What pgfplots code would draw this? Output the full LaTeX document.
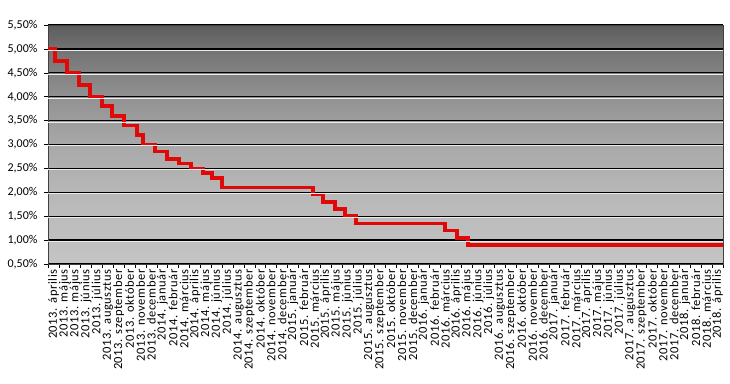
\documentclass[border=0pt]{standalone}
\usepackage{pgfplots}
\pgfplotsset{compat=1.18}
\usepackage{fontspec}
\setmainfont{Carlito}
\newfontfamily\labfont[LetterSpace=5]{Carlito}
\definecolor{myred}{RGB}{225,8,8}
\pgfdeclareverticalshading{bgshade}{100bp}{rgb(0bp)=(0.77,0.77,0.77); rgb(25bp)=(0.77,0.77,0.77); rgb(40bp)=(0.72,0.72,0.72); rgb(50bp)=(0.66,0.66,0.66); rgb(60bp)=(0.57,0.57,0.57); rgb(70bp)=(0.45,0.45,0.45); rgb(75bp)=(0.36,0.36,0.36); rgb(100bp)=(0.36,0.36,0.36)}
\begin{document}
\begin{tikzpicture}
\path[use as bounding box] (-48pt,-119pt) rectangle (682pt,264pt);
\begin{axis}[
  at={(0,0)}, anchor=south west,
  scale only axis,
  width=675pt, height=239pt,
  xmin=0, xmax=62, ymin=0.5, ymax=5.5,
  axis background/.style={shade, shading=bgshade},
  axis line style={black!75, line width=0.8pt},
  ytick={0.5,1,...,5.5},
  ymajorgrids,
  major grid style={black, line width=1.3pt},
  tick align=outside,
  major tick length=4pt,
  minor tick length=4pt,
  tick style={black, line width=0.6pt},
  xtick={0.5,1.5,...,61.5},
  minor xtick={0,1,...,62},
  major x tick style={draw=none},
  ytick pos=left, xtick pos=bottom,
  /pgf/number format/assume math mode=true,
  yticklabel={\pgfmathprintnumber[fixed,fixed zerofill,precision=2,use comma]{\tick}\%},
  yticklabel style={font=\fontsize{12}{14}\selectfont, xshift=-3pt},
  xticklabel style={rotate=90, anchor=east, font=\labfont\fontsize{12.5}{14}\selectfont, inner sep=1pt},
  xticklabels={2013. április,2013. május,2013. május,2013. június,2013. július,2013. augusztus,2013. szeptember,2013. október,2013. november,2013. december,
  2014. január,2014. február,2014. március,2014. április,2014. május,2014. június,2014. július,2014. augusztus,2014. szeptember,2014. október,2014. november,2014. december,
  2015. január,2015. február,2015. március,2015. április,2015. május,2015. június,2015. július,2015. augusztus,2015. szeptember,2015. október,2015. november,2015. december,
  2016. január,2016. február,2016. március,2016. április,2016. május,2016. június,2016. július,2016. augusztus,2016. szeptember,2016. október,2016. november,2016. december,
  2017. január,2017. február,2017. március,2017. április,2017. május,2017. június,2017. július,2017. augusztus,2017. szeptember,2017. október,2017. november,2017. december,
  2018. január,2018. február,2018. március,2018. április},
  after end axis/.code={
    \foreach \yy in {1,1.5,...,5}{
      \draw[white!85!gray, line width=0.9pt] (axis cs:0,\yy) ++(0,-1.4pt) -- ++(675pt,0);
    }
  },
]
\addplot[const plot mark left, myred, line width=3.6pt, line join=miter] coordinates {
(0,5.00) (0.64,4.75) (1.75,4.50) (2.85,4.25) (3.86,4.00) (4.96,3.80)
(5.88,3.60) (6.98,3.40) (8.18,3.20) (8.73,3.00) (9.83,2.85) (10.93,2.70)
(12.03,2.60) (13.13,2.50) (14.24,2.40) (15.06,2.30) (15.98,2.10)
(24.34,1.95) (25.26,1.80) (26.36,1.65) (27.28,1.50) (28.29,1.35)
(36.47,1.20) (37.57,1.05) (38.58,0.90) (62,0.90)
};
\end{axis}
\end{tikzpicture}
\end{document}
